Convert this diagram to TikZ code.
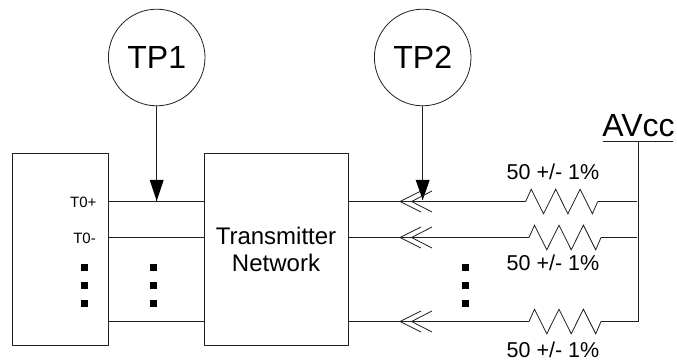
\documentclass[tikz,border=0pt]{standalone}
\usepackage{fontspec}
\setmainfont{Liberation Sans}
\tikzset{
  x=1pt,y=-1pt,
  wire/.style={draw=black!88,line width=0.8pt},
  boxnode/.style={draw=black!88,line width=0.8pt,minimum width=#1,minimum height=191.3pt,inner sep=0pt},
  probe/.style={draw=black!88,circle,line width=0.8pt,minimum size=96.6pt,inner sep=0pt,font=\fontsize{32}{33}\selectfont},
  lbl/.style={inner sep=0pt,font=\fontsize{21.5}{26}\selectfont},
  netlbl/.style={inner sep=0pt,align=center,font=\fontsize{24}{27}\selectfont},
  tiny/.style={inner sep=0pt,font=\fontsize{15}{18}\selectfont},
  dotmark/.style={fill=black,minimum size=6.8pt,inner sep=0pt},
  head/.style={fill=black},
}
\newcommand{\dotcol}[2]{%
  \node[dotmark] (d#1a) at (#1,#2) {};
  \node[dotmark] (d#1b) at (#1,#2+18) {};
  \node[dotmark] (d#1c) at (#1,#2+36) {};}
\newcommand{\openhead}[2]{%
  \draw[wire] (#1+21,#2-10.5) -- (#1,#2) -- (#1+21,#2+10.5);
  \draw[wire] (#1+32,#2-10.5) -- (#1+11.5,#2) -- (#1+32,#2+10.5);}
\newcommand{\zig}[2]{%
  \draw[wire] (#1,#2) -- (#1+5.5,#2-12.3) -- (#1+17.8,#2+12.3) -- (#1+30,#2-12.3) -- (#1+42.2,#2+12.3) -- (#1+54.4,#2-12.3) -- (#1+66.7,#2+12.3) -- (#1+72,#2);}
\begin{document}
\begin{tikzpicture}
\useasboundingbox (0,0) rectangle (677,363);
\node[boxnode=96pt] (ic) at (60.7,249.4) {};
\node[boxnode=143.6pt] (net) at (276.5,249.4) {};
\node[netlbl] (netl) at (276,249) {Transmitter\\Network};
\node[probe] (tp1) at (156.7,57.5) {TP1};
\node[probe] (tp2) at (422.7,57.5) {TP2};
\node[tiny,anchor=east] (t0p) at (96.7,202) {T0+};
\node[tiny,anchor=east] (t0m) at (96,238) {T0-};
\coordinate (a1) at (108.7,201.5);
\coordinate (b1) at (204.7,201.5);
\coordinate (a2) at (108.7,237.5);
\coordinate (b2) at (204.7,237.5);
\coordinate (a3) at (108.7,321.5);
\coordinate (b3) at (204.7,321.5);
\draw[wire] (a1) -- (b1) (a2) -- (b2) (a3) -- (b3);
\dotcol{84.3}{267.3}
\dotcol{153.3}{267.3}
\dotcol{465.7}{267.3}
\coordinate (tp1tip) at (156.7,201);
\draw[wire] (tp1.south) -- (tp1tip);
\fill[head] (149.7,180) -- (163.7,180) -- (tp1tip) -- cycle;
\coordinate (tp2tip) at (422.7,200);
\draw[wire] (tp2.south) -- (tp2tip);
\fill[head] (415.7,180) -- (429.7,180) -- (tp2tip) -- cycle;
\draw[wire] (348.3,201.5) -- (525.7,201.5) (597.7,201.5) -- (637,201.5);
\draw[wire] (348.3,237.5) -- (529,237.5) (601,237.5) -- (637,237.5);
\draw[wire] (348.3,321.5) -- (529,321.5) (601,321.5) -- (638.3,321.5);
\draw[wire] (638.3,321.9) -- (638.3,141.7);
\zig{525.7}{201.5}
\zig{529}{237.5}
\zig{529}{321.5}
\foreach \y in {201.5,237.5,321.5}{\openhead{400}{\y}}
\node[lbl] (r1) at (553,172) {50 +/- 1\%};
\node[lbl] (r2) at (553,263) {50 +/- 1\%};
\node[lbl] (r3) at (553,350) {50 +/- 1\%};
\node[font=\fontsize{32}{34}\selectfont,inner sep=0pt] (av) at (638.5,126) {AVcc};
\draw[wire] (603,141.7) -- (673,141.7);
\end{tikzpicture}
\end{document}
